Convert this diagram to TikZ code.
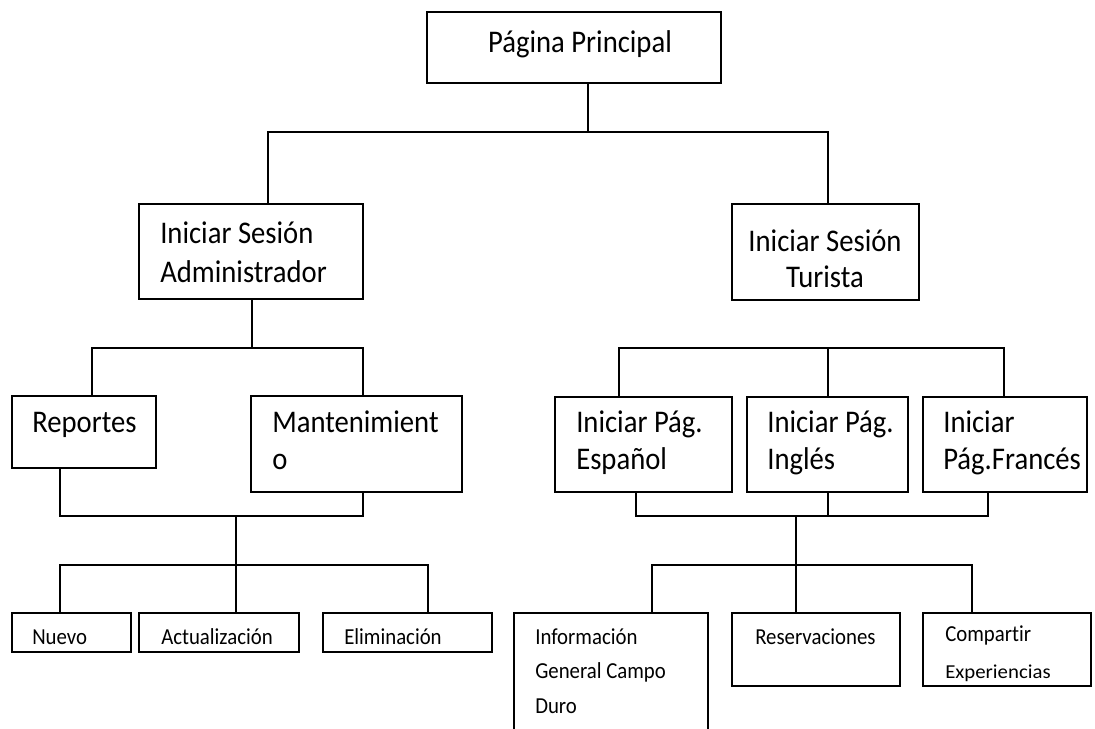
\documentclass[tikz,border=0pt]{standalone}
\usepackage{fontspec}
\usepackage{graphicx}
\setmainfont{Carlito}[Ligatures={NoCommon}]
% box from (x1,y1) to (x2,y2), y measured downwards
\newcommand{\mkbox}[5]{%
  \node[box, minimum width={(#4-#2)*0.75pt}, minimum height={(#5-#3)*0.75pt}] (#1) at (#2,#3) {};}
% slightly tall lettering
\newcommand{\tl}[1]{\scalebox{1}[1.1]{#1}}
\begin{document}
\begin{tikzpicture}[x=0.75pt,y=-0.75pt,
  box/.style={draw, line width=1.1pt, inner sep=0pt, outer sep=0pt, anchor=north west},
  big/.style={font=\fontsize{21.5}{28}\selectfont, inner sep=0pt, anchor=base west},
  small/.style={font=\fontsize{15.6}{20}\selectfont, inner sep=0pt, anchor=base west},
  link/.style={line width=1.1pt, line join=miter}]
\useasboundingbox (0,0) rectangle (1095,728);
\clip (0,0) rectangle (1095,728);

% ---- boxes ----
\mkbox{pp}{427}{12}{721}{83}
\mkbox{adm}{139}{204}{363}{299}
\mkbox{tur}{732}{204}{919}{300}
\mkbox{rep}{12}{396}{156}{468}
\mkbox{man}{251}{396}{462}{492}
\mkbox{esp}{555}{397}{732}{492}
\mkbox{ing}{747}{397}{908}{492}
\mkbox{fra}{923}{397}{1087}{492}
\mkbox{nue}{12}{613}{131}{652}
\mkbox{act}{139}{613}{299}{652}
\mkbox{eli}{323}{613}{492}{652}
\mkbox{inf}{514}{613}{708}{745}
\mkbox{res}{732}{613}{900}{686}
\mkbox{com}{923}{613}{1091}{686}

% ---- texts ----
\node[big, anchor=base] (tpp) at (580,52) {\tl{Página Principal}};
\node[big] (tadm1) at (160,243) {\tl{Iniciar Sesión}};
\node[big] (tadm2) at (160,282) {\tl{Administrador}};
\node[big, anchor=base] (ttur1) at (825,251) {\tl{Iniciar Sesión}};
\node[big, anchor=base] (ttur2) at (825,287) {\tl{Turista}};
\node[big] (trep) at (32,432) {\tl{Reportes}};
\node[big] (tman1) at (272,432) {\tl{Mantenimient}};
\node[big] (tman2) at (272,469) {\tl{o}};
\node[big] (tesp1) at (576,432) {\tl{Iniciar Pág.}};
\node[big] (tesp2) at (576,469) {\tl{Español}};
\node[big] (ting1) at (767,432) {\tl{Iniciar Pág.}};
\node[big] (ting2) at (767,469) {\tl{Inglés}};
\node[big] (tfra1) at (943,432) {\tl{Iniciar}};
\node[big] (tfra2) at (943,469) {\tl{Pág.Francés}};
\node[small] (tnue) at (32,644) {\tl{Nuevo}};
\node[small] (tact) at (161,644) {\tl{Actualización}};
\node[small] (teli) at (344,644) {\tl{Eliminación}};
\node[small] (tinf1) at (535,644) {\tl{Información}};
\node[small] (tinf2) at (535,678) {\tl{General Campo}};
\node[small] (tinf3) at (535,713) {\tl{Duro}};
\node[small] (tres) at (755,644) {\tl{Reservaciones}};
\node[small] (tcom1) at (945,641) {\tl{Compartir}};
\begin{scope}
  \clip (923,613) rectangle (1091,686);
  \node[small] (tcom2) at (945,678) {\scalebox{1}[0.95]{Experiencias}};
\end{scope}

% ---- connector junctions ----
\coordinate (j0) at (588,132);
\coordinate (j0a) at (268,132);
\coordinate (j0b) at (828,132);
\coordinate (j1) at (252,348);
\coordinate (j1a) at (92,348);
\coordinate (j1b) at (363,348);
\coordinate (j2a) at (60,516);
\coordinate (j2b) at (363,516);
\coordinate (j2) at (236,516);
\coordinate (j3) at (236,565);
\coordinate (j3a) at (60,565);
\coordinate (j3b) at (428,565);
\coordinate (k1a) at (619,348);
\coordinate (k1) at (828,348);
\coordinate (k1b) at (1004,348);
\coordinate (k2a) at (636,516);
\coordinate (k2) at (828,516);
\coordinate (k2b) at (988,516);
\coordinate (k2m) at (796,516);
\coordinate (k3) at (796,565);
\coordinate (k3a) at (652,565);
\coordinate (k3b) at (972,565);

% ---- connectors ----
\draw[link] (pp.south -| j0) -- (j0);
\draw[link] (adm.north -| j0a) -- (j0a) -- (j0b) -- (tur.north -| j0b);

\draw[link] (adm.south -| j1) -- (j1);
\draw[link] (rep.north -| j1a) -- (j1a) -- (j1b) -- (man.north -| j1b);
\draw[link] (rep.south -| j2a) -- (j2a) -- (j2b) -- (man.south -| j2b);
\draw[link] (j2) -- (j3);
\draw[link] (nue.north -| j3a) -- (j3a) -- (j3b) -- (eli.north -| j3b);
\draw[link] (j3) -- (act.north -| j3);

\draw[link] (esp.north -| k1a) -- (k1a) -- (k1b) -- (fra.north -| k1b);
\draw[link] (k1) -- (ing.north -| k1);
\draw[link] (esp.south -| k2a) -- (k2a) -- (k2b) -- (fra.south -| k2b);
\draw[link] (ing.south -| k2) -- (k2);
\draw[link] (k2m) -- (k3);
\draw[link] (inf.north -| k3a) -- (k3a) -- (k3b) -- (com.north -| k3b);
\draw[link] (k3) -- (res.north -| k3);
\end{tikzpicture}
\end{document}
